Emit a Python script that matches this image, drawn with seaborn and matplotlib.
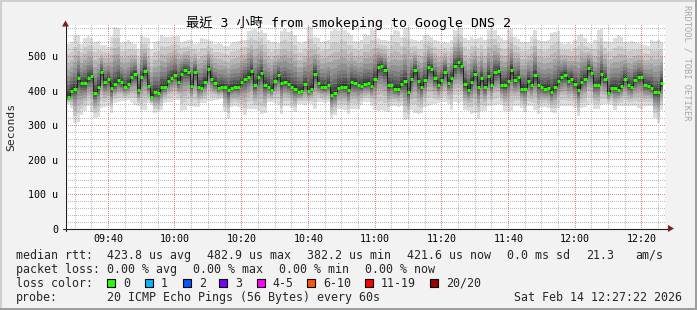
import numpy as np
import pandas as pd
import seaborn as sns
import matplotlib
matplotlib.use("Agg")
import matplotlib.pyplot as plt
from matplotlib.lines import Line2D
from matplotlib.patches import Rectangle, Polygon
from matplotlib.ticker import FixedLocator

# ---------------- data ----------------
start_minute = 9 * 60 + 27.5      # first 60 s step, minutes after midnight
step_minutes = 1.0
view_start = 9 * 60 + 27.0        # graph window: 3 hours
view_minutes = 180

median_us = [
    382, 398, 406, 436, 421, 421, 436, 442, 393, 410, 454, 424, 433, 408, 418, 430,
    424, 412, 418, 439, 448, 401, 439, 458, 414, 383, 396, 394, 410, 412, 429, 438,
    446, 424, 448, 459, 454, 415, 454, 412, 409, 425, 463, 435, 421, 408,
    411, 411, 401, 409, 412, 412, 424, 434, 441, 456, 416, 439, 451, 416, 412, 403,
    427, 444, 421, 424, 418, 412, 406, 397, 398, 418, 398, 406, 449, 421, 412, 410,
    417, 387, 393, 408, 412, 412, 402, 424, 422, 417, 414, 420, 422,
    414, 435, 469, 472, 461, 416, 416, 406, 404, 419, 427, 395, 433, 459, 427, 412,
    430, 469, 463, 436, 416, 432, 455, 422, 437, 472, 482, 470, 418, 403, 425, 449,
    412, 437, 412, 442, 417, 453, 456, 416, 416, 428, 460, 430, 439,
    406, 406, 429, 416, 444, 416, 410, 406, 409, 396, 410, 427, 439, 446, 428, 435,
    419, 403, 425, 435, 466, 452, 417, 417, 447, 434, 393, 409, 409, 403, 415, 435,
    416, 410, 430, 440, 440, 416, 415, 408, 395, 395, 422,
]
smoke_high_us = [
    536, 540, 558, 560, 536, 552, 557, 553, 541, 543, 531, 533, 527, 556, 585, 582,
    538, 540, 546, 541, 536, 522, 560, 556, 551, 522, 541, 545, 560, 554, 556, 555,
    557, 558, 541, 543, 548, 546, 536, 538, 551, 549, 546, 544, 536, 538,
    535, 530, 528, 538, 540, 545, 547, 548, 572, 575, 578, 570, 576, 566, 548, 540,
    542, 538, 574, 577, 570, 572, 562, 540, 538, 545, 586, 584, 555, 552, 540, 543,
    548, 574, 578, 572, 580, 576, 566, 560, 545, 542, 548, 565, 562,
    578, 575, 552, 546, 548, 545, 560, 576, 572, 556, 582, 585, 550, 546, 544, 548,
    560, 562, 556, 548, 545, 536, 540, 538, 548, 576, 585, 580, 552, 548, 555, 550,
    552, 556, 548, 576, 582, 575, 560, 552, 548, 575, 580, 556, 550,
    541, 542, 540, 556, 576, 546, 545, 543, 548, 566, 570, 572, 538, 536, 540, 535,
    548, 560, 565, 552, 538, 536, 548, 576, 578, 545, 541, 540, 552, 562, 556, 542,
    540, 543, 540, 538, 536, 531, 530, 546, 544, 548, 542,
]
smoke_low_us = [
    362, 350, 306, 310, 329, 340, 355, 338, 322, 325, 351, 352, 357, 335, 364, 366,
    370, 370, 372, 368, 360, 355, 343, 345, 364, 360, 335, 337, 343, 364, 367, 367,
    372, 372, 341, 343, 357, 357, 354, 354, 364, 364, 370, 370, 372, 372,
    376, 340, 319, 353, 355, 353, 345, 329, 348, 348, 346, 340, 333, 336, 367, 367,
    365, 360, 333, 357, 357, 350, 338, 362, 362, 360, 365, 362, 348, 367, 367, 365,
    367, 319, 330, 348, 348, 345, 333, 348, 348, 346, 360, 367, 367,
    357, 343, 342, 343, 340, 338, 355, 357, 353, 355, 316, 318, 343, 336, 333, 335,
    353, 355, 360, 362, 363, 367, 366, 362, 343, 367, 365, 366, 343, 342, 333, 335,
    319, 340, 342, 357, 355, 358, 362, 360, 340, 338, 342, 357, 355,
    350, 338, 357, 355, 345, 333, 352, 353, 350, 338, 335, 350, 357, 355, 357, 355,
    350, 326, 350, 352, 360, 365, 348, 346, 360, 362, 362, 360, 343, 355, 357, 357,
    355, 357, 355, 350, 348, 355, 357, 357, 320, 306, 343,
]

x_tick_labels = ["09:40", "10:00", "10:20", "10:40", "11:00", "11:20", "11:40", "12:00", "12:20"]
x_minor_step = 5
y_ticks = [0, 100, 200, 300, 400, 500]
y_tick_labels = ["0", "100 u", "200 u", "300 u", "400 u", "500 u"]
y_minor_step = 20
y_max = 590

title = "最近 3 小時 from smokeping to Google DNS 2"
y_title = "Seconds"
credit = "RRDTOOL / TOBI OETIKER"

rtt_names = ["avg", "max", "min", "now"]
rtt_values = [423.8, 482.9, 382.2, 421.6]
rtt_sd_ms = 0.0
rtt_am_s = 21.3
loss_names = ["avg", "max", "min", "now"]
loss_values = [0.00, 0.00, 0.00, 0.00]
loss_labels = ["0", "1", "2", "3", "4-5", "6-10", "11-19", "20/20"]
loss_colors = ["#26ff00", "#00b8ff", "#0059ff", "#7e00ff", "#ff00ff", "#ff5500", "#ff0000", "#a00000"]
probe_text = "20 ICMP Echo Pings (56 Bytes) every 60s"
stamp_text = "Sat Feb 14 12:27:22 2026"

# ---------------- style ----------------
sns.set_theme(style="white")
plt.rcParams["font.family"] = ["DejaVu Sans Mono", "Noto Sans CJK TC"]
plt.rcParams["axes.unicode_minus"] = False

W, H = 697, 310
BG = "#f2f2f2"
AXIS = "#1f1f1f"
ARROW = "#7f1f1f"
fig = plt.figure(figsize=(W / 100, H / 100), dpi=100, facecolor=BG)

# plot area in whole pixels
L, R, T, B = 65, 665, 25, 229
PW, PH = R - L, B - T
rect = [L / W, 1 - B / H, PW / W, PH / H]
ax = fig.add_axes(rect, zorder=0)
ax.set_facecolor("white")
x0v, x1v = view_start, view_start + view_minutes
ax.set_xlim(x0v, x1v)
ax.set_ylim(0, y_max)

def fxy(px, py):
    return (px / W, 1 - py / H)

# ---------------- smoke ----------------
med = np.asarray(median_us, float)
hi = np.asarray(smoke_high_us, float)
lo = np.asarray(smoke_low_us, float)
t = start_minute + step_minutes * np.arange(len(med))
edges = np.append(t, t[-1] + step_minutes)

# relative spread of the ten ping-pair bands (outermost first)
fracs = [1.0, 0.8, 0.64, 0.51, 0.4, 0.3, 0.22, 0.15, 0.09, 0.04]
for k, f in enumerate(fracs, start=1):
    g = int(190 / 10 * (10 - k)) + 50
    col = "#%02x%02x%02x" % (g, g, g)
    b_lo = med - (med - lo) * f
    b_hi = med + (hi - med) * f
    ax.fill_between(edges, np.append(b_lo, b_lo[-1]), np.append(b_hi, b_hi[-1]),
                    step="post", color=col, lw=0, zorder=1)

# ---------------- dotted grid (pixel exact, figure image) ----------------
def hm(s):
    h, m = s.split(":")
    return int(h) * 60 + int(m)

x_ticks = [hm(s) for s in x_tick_labels]
x_minor = [m for m in range(int(np.ceil(x0v / x_minor_step)) * x_minor_step, int(x1v) + 1, x_minor_step)
           if m not in x_ticks]
y_minor = [v for v in range(0, y_max + 1, y_minor_step) if v not in y_ticks]

grid = np.zeros((PH, PW, 4))
minor_rgba = (0.56, 0.56, 0.56, 0.6)
major_rgba = (0.87, 0.31, 0.31, 0.7)

def put_v(tm, rgba):
    c = int(np.floor((tm - x0v) / view_minutes * PW))
    if 1 <= c < PW:
        grid[0::2, c] = rgba

def put_h(v, rgba):
    r = int(np.floor((y_max - v) / y_max * PH))
    if 0 <= r < PH - 1:
        grid[r, 1::2] = rgba

for m in x_minor:
    put_v(m, minor_rgba)
for v in y_minor:
    put_h(v, minor_rgba)
for m in x_ticks:
    put_v(m, major_rgba)
for v in y_ticks:
    put_h(v, major_rgba)
fig.figimage(grid, xo=L, yo=H - B, origin="upper", zorder=1)

# ---------------- median (top layer) ----------------
ax2 = fig.add_axes(rect, zorder=2)
ax2.patch.set_visible(False)
ax2.set_axis_off()
df = pd.DataFrame({"t": t, "median": med})
sns.lineplot(data=df, x="t", y="median", drawstyle="steps-post", color="#202020",
             lw=0.72, ax=ax2, estimator=None, sort=False, legend=False, zorder=4)
ax2.hlines(med, t, t + step_minutes, colors=loss_colors[0], lw=2.2, zorder=5, capstyle="butt")
ax2.set_xlim(x0v, x1v)
ax2.set_ylim(0, y_max)

# ---------------- ticks ----------------
ax.xaxis.set_major_locator(FixedLocator(x_ticks))
ax.xaxis.set_minor_locator(FixedLocator(x_minor))
ax.yaxis.set_major_locator(FixedLocator(y_ticks))
ax.yaxis.set_minor_locator(FixedLocator(y_minor))
ax.set_xticklabels(x_tick_labels)
ax.set_yticklabels(y_tick_labels)
ax.grid(False)
ax.tick_params(axis="both", which="major", direction="out", length=1.5, width=0.72,
               color=AXIS, labelsize=7.2, labelcolor="black")
ax.tick_params(axis="both", which="minor", direction="in", length=1.5, width=0.72, color=AXIS)
ax.tick_params(axis="x", which="major", pad=2.4)
ax.tick_params(axis="y", which="major", pad=3.2)
for s in ax.spines.values():
    s.set_visible(False)

# axis lines with arrows (top layer)
AX_X, AX_Y = L + 0.5, B - 0.5
for art in [
    Line2D([AX_X / W, AX_X / W], [1 - 231 / H, 1 - 24 / H], color=AXIS, lw=0.8),
    Line2D([62.5 / W, 669 / W], [1 - AX_Y / H, 1 - AX_Y / H], color=AXIS, lw=0.8),
    Polygon([fxy(AX_X - 3.5, 26.5), fxy(AX_X + 3.5, 26.5), fxy(AX_X, 20.5)], closed=True,
            transform=fig.transFigure, color=ARROW, lw=0),
    Polygon([fxy(668, AX_Y - 3.5), fxy(668, AX_Y + 3.5), fxy(674, AX_Y)], closed=True,
            transform=fig.transFigure, color=ARROW, lw=0),
]:
    art.set_zorder(3)
    fig.add_artist(art)

# ---------------- texts ----------------
fig.text(*fxy(348.5, 27), title, ha="center", va="baseline", fontsize=9.55, color="black")
fig.text(*fxy(11.5, 126.5), y_title, ha="center", va="center", rotation=90, fontsize=8.2)
fig.text(*fxy(687, 5), credit, ha="center", va="top", rotation=270, fontsize=6.3, color="#a8a8a8")

FS = 8.4
line_y = [258.7, 272.7, 286.7, 300.7]
# line 1
fig.text(*fxy(16, line_y[0]), "median rtt:", fontsize=FS, va="baseline")
for x0, name, v in zip([107.3, 207.3, 307.3, 407.3], rtt_names, rtt_values):
    fig.text(*fxy(x0, line_y[0]), f"{v:.1f} us {name}", fontsize=FS, va="baseline")
fig.text(*fxy(507.3, line_y[0]), f"{rtt_sd_ms:.1f} ms sd", fontsize=FS, va="baseline")
fig.text(*fxy(586.5, line_y[0]), f"{rtt_am_s:.1f}", fontsize=FS, va="baseline")
fig.text(*fxy(635.7, line_y[0]), "am/s", fontsize=FS, va="baseline")
# line 2
fig.text(*fxy(16, line_y[1]), "packet loss:", fontsize=FS, va="baseline")
for x0, name, v in zip([107.3, 193.3, 279.3, 365.0], loss_names, loss_values):
    fig.text(*fxy(x0, line_y[1]), f"{v:.2f} % {name}", fontsize=FS, va="baseline")
# line 3
fig.text(*fxy(16, line_y[2]), "loss color:", fontsize=FS, va="baseline")
for x0, lab, c in zip([107.3, 145.0, 182.7, 219.3, 256.7, 307.3, 365.0, 430.0], loss_labels, loss_colors):
    fig.add_artist(Rectangle(fxy(x0, 286.5), 8 / W, 8 / H, transform=fig.transFigure,
                             facecolor=c, edgecolor="black", lw=0.8))
    fig.text(*fxy(x0 + 16, line_y[2]), lab, fontsize=FS, va="baseline")
# line 4
fig.text(*fxy(16, line_y[3]), "probe:", fontsize=FS, va="baseline")
fig.text(*fxy(107.3, line_y[3]), probe_text, fontsize=FS, va="baseline")
fig.text(*fxy(514, line_y[3]), stamp_text, fontsize=FS, va="baseline")

# ---------------- frame shading ----------------
fig.add_artist(Rectangle((0, 1 - 2 / H), 1, 2 / H, transform=fig.transFigure, color="#cfcfcf", lw=0))
fig.add_artist(Rectangle((0, 0), 2 / W, 1, transform=fig.transFigure, color="#cfcfcf", lw=0))
fig.add_artist(Rectangle((0, 0), 1, 2 / H, transform=fig.transFigure, color="#9e9e9e", lw=0))
fig.add_artist(Rectangle((1 - 2 / W, 0), 2 / W, 1, transform=fig.transFigure, color="#9e9e9e", lw=0))

fig.savefig("out.png", dpi=100, facecolor=BG)
